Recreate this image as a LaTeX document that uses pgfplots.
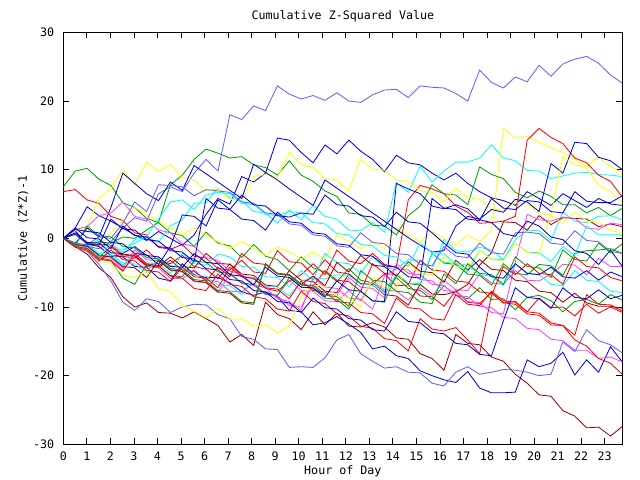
\documentclass[border=0pt]{standalone}
\usepackage{fontspec}
\setmainfont{DejaVu Sans Mono}
\usepackage{pgfplots}
\pgfplotsset{compat=1.18}
\definecolor{cred}{RGB}{255,0,0}
\definecolor{cgreen}{RGB}{0,160,0}
\definecolor{cblue}{RGB}{0,0,224}
\definecolor{cmag}{RGB}{255,64,255}
\definecolor{ccyan}{RGB}{0,255,255}
\definecolor{cdred}{RGB}{160,0,0}
\definecolor{cyel}{RGB}{255,255,0}
\definecolor{cperi}{RGB}{96,96,255}
\newcommand{\ser}[2]{\addplot[#1] table[x expr=\coordindex*0.505319, y index=0, header=false, row sep=\\] {#2\\};}
\begin{document}
\begin{tikzpicture}[font=\fontsize{8.4}{10}\selectfont]
\useasboundingbox (-45.6pt,-25.7pt) rectangle (415.2pt,319.9pt);
\begin{axis}[
  at={(0,0)}, anchor=south west,
  scale only axis, width=402.5pt, height=296.6pt,
  xmin=0, xmax=23.75, ymin=-30, ymax=30,
  xtick={0,1,...,23}, ytick={-30,-20,...,30},
  minor tick num=0,
  tick align=inside, major tick length=4.3pt,
  tick style={black, line width=0.6pt},
  axis line style={black, line width=0.7pt},
  /pgf/number format/assume math mode=true,
  xticklabel style={yshift=-2pt},
  yticklabel style={xshift=-3pt},
  title={Cumulative Z-Squared Value},
  title style={at={(axis description cs:0.5,1.0421)}, anchor=center, yshift=-7pt},
  xlabel={Hour of Day},
  xlabel style={at={(axis description cs:0.5,-0.0664)}, anchor=center},
  ylabel={Cumulative (Z*Z)-1},
  ylabel style={at={(axis description cs:-0.072,0.5)}, anchor=center},
  no markers,
  every axis plot/.append style={line width=0.6pt},
  clip=true,
]
% R1
\ser{cred}{6.8\\7.1\\5.6\\5.1\\3.2\\2.6\\0.8\\0.5\\-1.3\\-1.6\\-0.9\\-2.6\\-2.9\\-4.4\\-4.6\\-3.2\\-4.9\\-5.1\\-1.8\\-3.4\\-3.6\\-5.3\\-3.1\\-4.9\\-5.2\\-6.6\\-6.7\\-5.2\\-6.9\\-6.8\\-8.4\\-8.5\\-9.9\\-7.6\\-9.3\\-9.5\\-7.9\\-9.4\\-9.2\\-10.7\\-8.7\\-10.1\\-10.0\\-11.3\\-9.6\\-10.9\\-10.0\\-10.8}
% G1
\ser{cgreen}{7.5\\9.8\\10.2\\8.6\\7.7\\5.2\\4.5\\2.9\\2.3\\0.8\\0.4\\-1.2\\0.9\\-0.7\\-1.1\\-2.8\\-0.9\\-2.6\\-3.1\\-4.7\\-2.7\\-4.3\\-4.9\\-6.3\\-4.4\\-6.1\\-6.5\\-7.8\\-5.7\\-7.3\\-7.6\\-8.9\\-6.9\\-8.3\\-8.8\\-7.2\\-8.9\\-8.8\\-10.4\\-8.6\\-8.3\\-9.1\\-10.7\\-9.2\\-8.9\\-9.6\\-8.2\\-9.0}
% B2
\ser{cblue}{0\\1.5\\4.6\\3.3\\2.5\\1.5\\0.5\\-0.3\\1.0\\0.0\\-1.0\\0.5\\3.5\\5.8\\5.0\\9.0\\8.2\\9.5\\14.6\\14.3\\12.5\\11.0\\13.6\\12.3\\14.3\\12.7\\11.5\\9.7\\12.1\\11.0\\10.7\\9.5\\8.5\\9.5\\8.0\\6.8\\5.9\\5.5\\4.8\\6.8\\5.8\\4.8\\6.5\\5.5\\4.5\\5.8\\5.0\\4.8}
% M1
\ser{cmag}{0\\-1.3\\-1.7\\-3.1\\-3.2\\-4.6\\-2.7\\-4.1\\-4.3\\-5.8\\-5.9\\-4.6\\-6.1\\-6.3\\-7.7\\-7.8\\-6.6\\-8.1\\-8.3\\-6.1\\-7.6\\-7.7\\-9.1\\-9.2\\-7.6\\-9.1\\-6.2\\-7.5\\-7.7\\-9.0\\-7.2\\-8.5\\-6.1\\-7.5\\-7.6\\-5.2\\-6.5\\-6.7\\-4.7\\-6.1\\-6.2\\-5.2\\-3.8\\-3.9\\-5.3\\-2.9\\-4.1\\-4.1}
% C1
\ser{ccyan}{0\\-1.1\\-1.2\\-0.2\\-1.5\\-1.7\\-0.7\\0.2\\-0.6\\1.8\\2.7\\5.1\\5.2\\7.3\\5.9\\5.5\\3.9\\3.7\\2.2\\4.1\\2.7\\4.8\\3.2\\2.8\\1.2\\1.1\\2.3\\0.9\\8.1\\6.7\\10.5\\8.2\\9.8\\11.1\\11.1\\11.7\\13.6\\11.7\\11.3\\9.9\\9.8\\8.7\\9.1\\9.5\\9.6\\9.3\\9.2\\9.0}
% D1
\ser{cdred}{0\\-1.2\\-2.3\\-4.3\\-5.7\\-8.5\\-10.0\\-9.4\\-10.8\\-10.9\\-11.6\\-10.7\\-11.7\\-12.7\\-15.1\\-14.0\\-15.6\\-9.3\\-11.1\\-11.7\\-13.3\\-10.7\\-12.6\\-10.9\\-12.8\\-12.9\\-12.3\\-12.9\\-14.5\\-14.7\\-16.8\\-17.5\\-19.2\\-14.0\\-15.3\\-15.5\\-17.3\\-17.9\\-19.8\\-21.1\\-22.8\\-23.0\\-25.1\\-25.9\\-27.6\\-27.5\\-28.8\\-27.4}
% Y1
\ser{cyel}{0\\0.5\\-0.5\\-1.2\\0.8\\2.5\\4.5\\3.5\\2.5\\1.5\\0.5\\1.5\\0.5\\-0.5\\-1.5\\-0.5\\-1.5\\-2.5\\-1.2\\-2.0\\-3.0\\-2.0\\-3.0\\0.5\\-0.5\\-1.5\\-0.5\\-1.5\\1.5\\0.5\\-0.5\\1.0\\0.0\\-1.0\\0.5\\-0.5\\1.2\\16.0\\14.6\\14.8\\14.0\\13.2\\12.5\\11.5\\10.5\\11.8\\10.5\\9.5}
% P1
\ser{cperi}{0\\-0.6\\-1.2\\-1.5\\-0.5\\1.5\\3.0\\2.5\\6.5\\7.5\\6.8\\9.5\\11.5\\9.8\\18.0\\17.3\\19.3\\18.6\\22.2\\21.0\\20.3\\20.8\\20.1\\21.2\\20.0\\19.8\\20.9\\21.6\\21.7\\20.5\\22.2\\22.0\\21.9\\21.1\\20.0\\24.5\\22.7\\21.9\\23.5\\22.8\\25.2\\23.6\\25.4\\26.1\\26.5\\25.5\\23.8\\22.6}
% R2
\ser{cred}{0\\-1.1\\-1.3\\-2.8\\-1.2\\-2.6\\-2.9\\-1.7\\-3.3\\-3.7\\-2.5\\-4.1\\-4.5\\-5.9\\-3.7\\-5.5\\-5.9\\-7.3\\-7.7\\-6.2\\-5.3\\-3.7\\-5.3\\-1.7\\-3.3\\-3.7\\-2.2\\-3.8\\-4.2\\5.6\\7.7\\7.2\\6.5\\4.7\\3.8\\2.2\\2.3\\2.5\\3.2\\14.3\\16.0\\14.7\\13.8\\11.7\\11.0\\9.2\\8.3\\6.0}
% G2
\ser{cgreen}{0\\-0.8\\-0.9\\-0.5\\-0.7\\0.2\\0.0\\1.2\\2.3\\7.8\\9.2\\11.5\\13.0\\12.4\\11.7\\11.9\\10.7\\10.3\\9.2\\11.3\\9.2\\8.3\\6.9\\6.1\\3.7\\3.5\\1.9\\1.8\\0.5\\3.3\\4.7\\7.8\\6.5\\6.3\\4.9\\10.4\\9.3\\8.7\\6.7\\5.9\\6.9\\6.1\\4.9\\4.9\\3.7\\4.5\\3.3\\4.4}
% B1
\ser{cblue}{0\\1.1\\-0.8\\-1.2\\-2.5\\-2.7\\-4.1\\-4.2\\-5.8\\-6.2\\-3.7\\-5.3\\-5.7\\-5.7\\-6.5\\-7.8\\-8.3\\-7.8\\-8.5\\-10.5\\-10.7\\-12.6\\-12.3\\-11.4\\-12.5\\-13.7\\-16.1\\-15.7\\-17.1\\-17.5\\-19.3\\-20.0\\-20.6\\-21.0\\-19.4\\-21.8\\-22.5\\-22.5\\-22.4\\-17.7\\-18.7\\-18.2\\-16.6\\-19.9\\-17.7\\-19.5\\-15.8\\-18}
% M2
\ser{cmag}{0\\-1.1\\-1.3\\-2.7\\-2.9\\-4.3\\-1.7\\-3.1\\-3.3\\-4.7\\-4.9\\-6.3\\-6.5\\-7.9\\-5.2\\-6.6\\-6.8\\-8.2\\-8.4\\-9.8\\-10.0\\-6.7\\-8.1\\-8.3\\-5.7\\-7.1\\-7.3\\-8.7\\-3.7\\-5.1\\-5.3\\-6.7\\-6.9\\-8.3\\-8.5\\-9.9\\-10.1\\-11.5\\-11.7\\-13.1\\-13.3\\-14.7\\-14.9\\-16.3\\-16.3\\-17.5\\-17.3\\-18.0}
% C2
\ser{ccyan}{0\\-0.9\\-1.0\\-2.4\\-2.5\\-3.9\\-2.2\\-3.6\\-3.7\\-5.1\\-2.2\\-3.7\\-3.9\\-2.3\\-2.7\\-4.1\\-4.2\\-5.6\\-5.7\\-7.1\\-4.7\\-6.1\\-2.2\\-3.5\\-3.7\\-5.1\\-2.7\\-4.3\\-4.5\\-3.1\\-3.2\\-4.6\\-0.2\\-1.8\\-2.0\\-1.3\\-1.7\\-3.1\\-0.2\\1.2\\1.1\\-0.3\\3.8\\2.5\\2.3\\3.2\\3.3\\2.7}
% D2
\ser{cdred}{0\\-1.0\\-1.2\\-2.5\\-2.7\\-2.3\\-2.5\\-3.9\\-4.1\\-2.7\\-4.1\\-4.3\\-2.2\\-3.6\\-3.8\\-5.2\\-5.4\\-6.8\\-7.0\\-4.7\\-6.1\\-6.3\\-7.7\\-7.9\\-5.2\\-6.6\\-6.8\\-8.2\\-8.4\\-9.7\\-6.7\\-8.1\\-8.2\\-7.8\\-6.7\\-3.9\\-2.1\\2.4\\2.3\\1.2\\3.3\\2.0\\3.0\\2.9\\2.8\\1.7\\2.1\\1.7}
% Y2
\ser{cyel}{0\\1.1\\1.7\\5.8\\7.2\\10.0\\7.7\\11.1\\9.7\\10.8\\8.9\\8.5\\6.9\\7.3\\5.7\\5.5\\9.0\\9.3\\8.9\\12.5\\10.7\\10.3\\8.7\\8.5\\6.9\\11.5\\10.1\\9.9\\8.5\\8.3\\6.9\\6.7\\5.3\\7.3\\5.9\\5.7\\4.3\\4.1\\5.2\\5.0\\3.6\\3.4\\2.2\\3.8\\2.5\\2.4\\1.1\\0.8}
% P2
\ser{cperi}{0\\-1.3\\-1.9\\-3.8\\-6.2\\-9.3\\-10.5\\-8.8\\-9.2\\-10.8\\-10.0\\-9.6\\-9.7\\-11.1\\-11.7\\-14.3\\-14.7\\-16.1\\-16.2\\-18.8\\-18.7\\-18.8\\-17.4\\-14.8\\-14.0\\-16.8\\-17.9\\-18.9\\-18.7\\-19.5\\-19.6\\-21.1\\-21.5\\-19.5\\-18.7\\-19.8\\-19.5\\-19.1\\-19.2\\-19.5\\-20.0\\-19.8\\-15.1\\-16.5\\-13.3\\-14.9\\-15.5\\-16.7}
% R3
\ser{cred}{0\\-1.1\\-1.3\\-0.8\\-1.0\\-2.4\\-2.6\\-4.0\\-4.2\\-3.2\\-4.6\\-4.8\\-6.2\\-4.2\\-5.6\\-2.2\\-3.6\\-3.8\\-5.2\\-5.4\\-6.8\\-7.0\\-4.7\\-6.1\\-6.3\\-7.7\\-3.7\\-5.1\\-5.3\\-6.7\\-3.2\\-4.6\\-4.8\\-6.2\\-6.4\\-7.8\\-8.0\\-9.4\\-9.6\\-11.0\\-11.2\\-12.6\\-12.7\\-14.1\\-8.2\\-9.6\\-9.7\\-10.6}
% G3
\ser{cgreen}{0\\-1.1\\-1.3\\-2.8\\-3.2\\-5.8\\-6.7\\-3.8\\-4.0\\-5.4\\-5.6\\-3.3\\-3.5\\-4.9\\-5.1\\-6.5\\-6.7\\-8.1\\-8.3\\-5.7\\-7.1\\-7.3\\-8.7\\-8.9\\-10.3\\-7.7\\-9.1\\-9.3\\-5.2\\-6.6\\-6.8\\-2.2\\-3.6\\-3.8\\-5.2\\-5.4\\-6.8\\-3.7\\-5.1\\-5.3\\-3.8\\-4.0\\-5.4\\-2.2\\-1.8\\-1.7\\-1.5\\-2.2}
% B3
\ser{cblue}{0\\-0.8\\1.5\\0.2\\4.5\\9.5\\8.0\\6.5\\5.5\\8.2\\7.0\\10.6\\9.4\\8.2\\7.0\\5.8\\10.8\\9.6\\8.5\\7.2\\6.0\\4.8\\8.5\\7.3\\6.1\\4.9\\3.7\\2.5\\1.3\\0.1\\-1.0\\-2.0\\-1.8\\1.8\\3.2\\2.8\\4.2\\3.8\\5.7\\5.3\\3.9\\10.9\\9.5\\14.0\\13.8\\11.8\\11.3\\10.0}
% M3
\ser{cmag}{0\\1.3\\1.7\\3.3\\3.7\\5.3\\3.2\\2.8\\1.2\\0.8\\-0.8\\-1.2\\-2.8\\-3.2\\-4.8\\-5.2\\-6.8\\-7.2\\-8.8\\-9.2\\-10.5\\-5.7\\-7.1\\-7.3\\-8.7\\-8.9\\-10.3\\-5.5\\-4.4\\-4.6\\-6.0\\-6.2\\-7.6\\-7.8\\-9.2\\-9.4\\-10.8\\-11.0\\-3.5\\3.5\\2.7\\2.5\\3.1\\2.9\\1.5\\1.3\\2.2\\2.0}
% C3
\ser{ccyan}{0\\-0.8\\-0.9\\-2.2\\-2.3\\-3.6\\-3.7\\-5.0\\-2.7\\-4.0\\-4.1\\-5.4\\-5.5\\-6.8\\-6.9\\-8.2\\-5.7\\-7.0\\-7.1\\-8.4\\-6.2\\-5.8\\-5.9\\-5.3\\-5.4\\-6.7\\-6.8\\-8.1\\-5.2\\-6.5\\-6.6\\-2.2\\-3.5\\-3.6\\-4.9\\-1.7\\-3.0\\-3.1\\-0.7\\-2.0\\-2.1\\-3.4\\-1.2\\-2.5\\1.8\\0.5\\0.5\\0.5}
% D3
\ser{cdred}{0\\-0.9\\-1.1\\-2.5\\-2.7\\-4.1\\-4.3\\-5.7\\-3.2\\-4.6\\-4.8\\-6.2\\-6.4\\-7.8\\-8.0\\-9.4\\-9.6\\-3.7\\-5.1\\-5.3\\-6.7\\-5.5\\-6.9\\-3.5\\-4.9\\-2.5\\-3.9\\-4.1\\-5.5\\-3.4\\-4.8\\-5.0\\-6.4\\-3.2\\-4.6\\-3.1\\-4.5\\-4.7\\-6.1\\-6.3\\-7.7\\-7.9\\-9.3\\-8.0\\-9.4\\-9.9\\-9.9\\-10.2}
% Y3
\ser{cyel}{0\\-1.3\\-1.7\\-3.3\\-3.7\\-5.3\\-5.7\\-4.7\\-7.3\\-7.7\\-9.8\\-10.6\\-11.6\\-10.2\\-11.8\\-11.7\\-12.8\\-12.6\\-13.8\\-12.7\\-8.6\\-6.8\\-7.0\\-8.4\\-8.6\\-10.0\\-5.7\\-7.1\\-7.3\\-3.7\\-5.1\\-5.3\\-2.7\\-4.1\\-4.3\\-1.7\\-3.1\\-3.3\\-0.7\\-2.1\\-2.3\\3.5\\11.9\\10.7\\10.2\\7.7\\6.8\\5.1}
% P3
\ser{cperi}{0\\-0.8\\-0.9\\0.2\\0.0\\2.2\\5.3\\3.9\\7.8\\7.7\\7.5\\6.2\\7.1\\6.9\\6.7\\5.3\\5.1\\3.7\\3.5\\2.1\\1.9\\0.5\\0.3\\-1.1\\-1.3\\0.8\\-0.6\\-0.8\\-2.2\\-2.4\\-3.8\\-4.0\\-1.2\\-2.6\\-2.8\\-0.7\\-2.1\\-2.3\\0.8\\0.9\\0.7\\-0.7\\-0.9\\1.1\\-0.3\\-0.5\\-1.9\\-2.2}
% R4
\ser{cred}{0\\-1.3\\-1.7\\-3.3\\-1.7\\-3.1\\-3.3\\-4.7\\-4.9\\-6.3\\-4.2\\-5.6\\-5.8\\-7.2\\-4.2\\-5.6\\-5.8\\-7.2\\-7.4\\-8.8\\-6.2\\-7.6\\-7.8\\-9.2\\-9.4\\-10.8\\-11.0\\-12.4\\-8.7\\-10.1\\-10.3\\-11.7\\-11.9\\-8.2\\-9.6\\-9.8\\-7.7\\-9.1\\-9.3\\-10.7\\-10.9\\-12.3\\-12.7\\-14.8\\-15.7\\-17.5\\-18.2\\-19.8}
% B4
\ser{cblue}{0\\0.8\\-0.6\\-0.7\\-2.1\\-2.2\\-1.2\\-2.5\\-2.7\\-4.1\\-4.2\\-2.2\\-3.5\\-3.7\\-5.3\\-5.5\\-6.8\\-4.2\\-5.5\\-5.7\\-7.1\\-7.2\\-8.5\\-6.2\\-7.5\\-7.7\\-9.1\\-9.2\\8.0\\7.2\\6.5\\4.7\\4.3\\4.9\\4.3\\2.7\\2.3\\0.7\\0.3\\2.5\\1.8\\0.2\\-0.2\\-1.8\\-2.2\\-3.8\\-1.7\\-4.1}
% C4
\ser{ccyan}{0\\-1.1\\-1.3\\-2.7\\-0.7\\-2.1\\-0.2\\0.2\\2.8\\5.3\\5.6\\4.2\\6.3\\6.7\\6.5\\5.1\\4.9\\3.5\\3.3\\3.9\\3.7\\2.3\\2.1\\0.7\\0.5\\-0.9\\-1.1\\-2.5\\-2.7\\-4.1\\-0.7\\-2.1\\-2.3\\-3.7\\-3.9\\-5.3\\-5.5\\-6.9\\-3.7\\-5.1\\-5.3\\-6.7\\-6.9\\-4.7\\-6.1\\-6.3\\-7.7\\-7.9}
% G4
\ser{cgreen}{0\\-1.0\\1.8\\0.4\\0.2\\-1.2\\-1.4\\-2.8\\-3.0\\-4.4\\-4.6\\-6.0\\-6.2\\-7.6\\-7.8\\-9.2\\-9.4\\-3.7\\-5.1\\-5.3\\-6.7\\-6.9\\-8.3\\-8.5\\-9.9\\-4.7\\-6.1\\-6.3\\-7.7\\-7.9\\-9.3\\-9.5\\-5.2\\-6.6\\-3.7\\-5.1\\-5.3\\-6.7\\-2.7\\-4.1\\-4.3\\-5.7\\-1.7\\-3.1\\-3.3\\-0.7\\-2.1\\-0.8}
% B5
\ser{cblue}{0\\1.3\\1.0\\0.8\\-0.6\\-0.8\\-2.2\\-2.4\\-3.8\\-1.2\\3.4\\3.2\\1.8\\5.6\\4.2\\6.3\\4.9\\4.7\\3.3\\3.1\\3.7\\3.5\\6.3\\4.9\\4.7\\3.3\\3.1\\1.7\\3.8\\2.4\\2.2\\0.8\\-0.7\\-2.1\\-2.3\\-4.2\\-5.6\\-5.8\\-3.7\\-5.1\\-5.3\\-4.2\\-5.6\\-5.8\\-4.7\\-6.1\\-4.9\\-5.6}
% R5
\ser{cred}{0\\-1.2\\-1.5\\-3.0\\-3.3\\-4.8\\-2.2\\-3.7\\-4.0\\-5.5\\-5.8\\-7.3\\-7.6\\-5.2\\-6.7\\-7.0\\-8.5\\-8.8\\-10.3\\-10.6\\-7.7\\-9.2\\-9.5\\-11.0\\-11.3\\-12.8\\-13.1\\-14.6\\-14.9\\-16.4\\-11.7\\-13.2\\-13.5\\-13.0\\-14.8\\-16.8\\-8.3\\-4.1\\-5.3\\-3.7\\-5.1\\-5.3\\-6.7\\-2.7\\-4.1\\-4.3\\-5.7\\-6.2}
% B6
\ser{cblue}{0\\1.5\\0.1\\-0.1\\-1.5\\1.8\\0.4\\0.2\\-1.2\\-1.4\\-2.8\\-3.0\\-4.4\\-4.6\\-6.0\\-6.2\\-7.6\\-7.8\\-9.2\\-9.4\\-10.8\\-8.7\\-10.1\\-10.3\\-11.7\\-11.9\\-13.3\\-13.5\\-10.7\\-12.1\\-12.3\\-13.7\\-13.9\\-15.3\\-15.5\\-16.9\\-17.1\\-12.0\\-7.2\\-8.6\\-8.8\\-10.2\\-7.2\\-8.6\\-8.8\\-7.5\\-8.8\\-8.3}
% B7
\ser{cblue}{0\\0.6\\-0.8\\-1.0\\2.8\\1.4\\1.2\\-0.2\\-0.4\\-1.8\\-2.0\\-3.4\\5.8\\4.4\\4.2\\2.8\\2.6\\1.2\\3.8\\2.4\\2.2\\0.8\\0.6\\-0.8\\-1.0\\-2.4\\-2.6\\-4.0\\-4.2\\-5.6\\-5.8\\5.8\\4.4\\4.2\\2.8\\2.6\\5.8\\4.4\\4.2\\5.5\\5.3\\3.9\\3.7\\6.8\\5.4\\5.2\\5.2\\6.2}
\end{axis}
\end{tikzpicture}
\end{document}
